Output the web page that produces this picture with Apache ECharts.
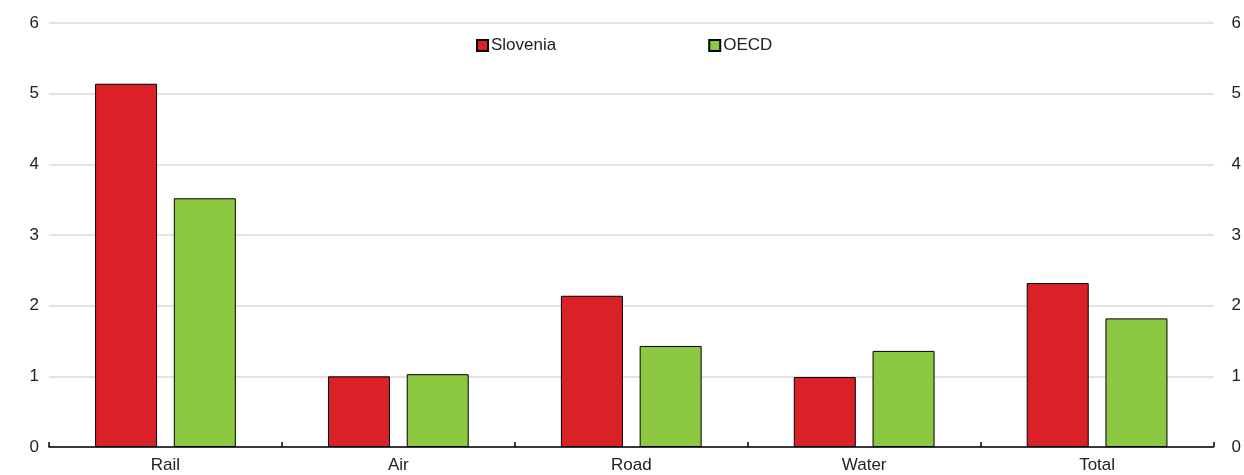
<!DOCTYPE html>
<html>
<head>
<meta charset="utf-8">
<script src="https://cdn.jsdelivr.net/npm/echarts@6/dist/echarts.min.js"></script>
<style>
  html, body { margin: 0; padding: 0; background: #fff; }
  #chart { width: 1244px; height: 475px; }
</style>
</head>
<body>
<div id="chart"></div>
<script>
// Transport modes and values per series
const categories = ['Rail', 'Air', 'Road', 'Water', 'Total'];
const slovenia = [5.14, 1.0, 2.14, 0.99, 2.32];
const oecd = [3.52, 1.03, 1.43, 1.36, 1.82];
const yTicks = [0, 1, 2, 3, 4, 5, 6];

const FONT = '"Liberation Sans", Arial, sans-serif';
const chart = echarts.init(document.getElementById('chart'), null, { renderer: 'canvas' });

const valueAxis = (position) => ({
  type: 'value',
  position: position,
  min: yTicks[0],
  max: yTicks[yTicks.length - 1],
  interval: 1,
  axisLine: { show: false },
  axisTick: { show: false },
  axisLabel: {
    color: '#222',
    fontFamily: FONT,
    fontSize: 17,
    margin: position === 'left' ? 10 : 18
  },
  splitLine: { show: position === 'left', lineStyle: { color: '#d9d9d9', width: 1.5 } }
});

chart.setOption({
  animation: false,
  backgroundColor: '#fff',
  grid: { left: 49, right: 30, top: 23, bottom: 28, containLabel: false },
  legend: {
    left: 476,
    top: 37,
    padding: 0,
    icon: 'rect',
    itemWidth: 11,
    itemHeight: 11,
    itemGap: 152,
    textStyle: { color: '#222', fontFamily: FONT, fontSize: 17, padding: [0, 0, 0, -2] },
    data: ['Slovenia', 'OECD']
  },
  xAxis: {
    type: 'category',
    data: categories,
    axisLine: { lineStyle: { color: '#000', width: 1.5 } },
    axisTick: { show: true, inside: true, length: 5, lineStyle: { color: '#000', width: 1.5 } },
    axisLabel: { color: '#222', fontFamily: FONT, fontSize: 17, margin: 10 }
  },
  yAxis: [valueAxis('left'), valueAxis('right')],
  series: [
    {
      name: 'Slovenia',
      type: 'bar',
      data: slovenia,
      barWidth: 62,
      barGap: '27%',
      itemStyle: { color: '#da2128', borderColor: '#000', borderWidth: 1 }
    },
    {
      name: 'OECD',
      type: 'bar',
      data: oecd,
      barWidth: 62,
      itemStyle: { color: '#8cc841', borderColor: '#000', borderWidth: 1 }
    }
  ]
});
</script>
</body>
</html>
